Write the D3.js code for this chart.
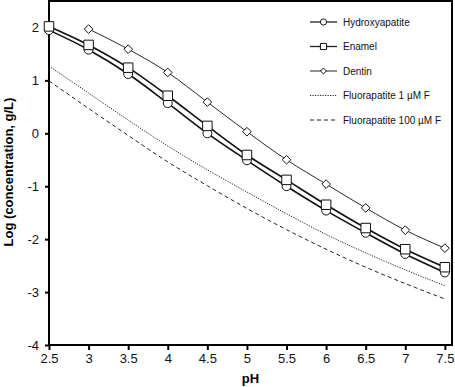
<!DOCTYPE html>
<html>
<head>
<meta charset="utf-8">
<script src="https://cdn.jsdelivr.net/npm/d3@7"></script>
<style>
  body { margin: 0; background: #fff; }
  svg { display: block; font-family: "Liberation Sans", Arial, Helvetica, sans-serif; }
</style>
</head>
<body>
<svg id="chart"></svg>
<script>
// data
var ph = [2.5, 3, 3.5, 4, 4.5, 5, 5.5, 6, 6.5, 7, 7.5];
var hydroxyapatite = [1.95, 1.58, 1.12, 0.57, 0.0, -0.51, -1.0, -1.46, -1.88, -2.28, -2.63];
var enamel = [2.02, 1.67, 1.24, 0.71, 0.14, -0.41, -0.88, -1.35, -1.79, -2.19, -2.53];
var dentinPh = [3, 3.5, 4, 4.5, 5, 5.5, 6, 6.5, 7, 7.5];
var dentin = [1.97, 1.59, 1.15, 0.59, 0.03, -0.5, -0.96, -1.41, -1.83, -2.17];
var fluor1 = [1.27, 0.76, 0.25, -0.24, -0.69, -1.11, -1.52, -1.91, -2.26, -2.58, -2.88];
var fluor100 = [0.99, 0.47, -0.04, -0.54, -0.99, -1.42, -1.82, -2.19, -2.53, -2.84, -3.13];
var xTicks = [2.5, 3, 3.5, 4, 4.5, 5, 5.5, 6, 6.5, 7, 7.5];
var yTicks = [-4, -3, -2, -1, 0, 1, 2];

var width = 455, height = 387;
var margin = { left: 49, right: 452, top: 1, bottom: 345 };

var svg = d3.select("#chart").attr("width", width).attr("height", height);

var x = d3.scaleLinear().domain([2.5, 7.59]).range([margin.left, margin.right]);
var y = d3.scaleLinear().domain([-4, 2.5]).range([margin.bottom, margin.top]);

// frame
svg.append("rect")
  .attr("x", margin.left).attr("y", margin.top)
  .attr("width", margin.right - margin.left).attr("height", margin.bottom - margin.top)
  .attr("fill", "none").attr("stroke", "#000").attr("stroke-width", 2);

// axes (plain hyphen for negatives, like the original)
var plain = function (d) { return String(d); };
var xAxis = svg.append("g")
  .attr("transform", "translate(0," + margin.bottom + ")")
  .call(d3.axisBottom(x).tickValues(xTicks).tickSize(5).tickPadding(4).tickFormat(plain));
var yAxis = svg.append("g")
  .attr("transform", "translate(" + margin.left + ",0)")
  .call(d3.axisLeft(y).tickValues(yTicks).tickSize(4).tickPadding(6).tickFormat(plain));

[xAxis, yAxis].forEach(function (g) {
  g.select(".domain").remove();
  g.selectAll(".tick line").attr("stroke", "#000").attr("stroke-width", 2);
  g.selectAll(".tick text").attr("fill", "#111").style("font-size", "13px")
    .style("font-family", "'Liberation Sans', Arial, sans-serif");
});

// axis titles
svg.append("text")
  .attr("x", (margin.left + margin.right) / 2).attr("y", 383)
  .attr("text-anchor", "middle")
  .style("font-size", "13px").style("font-weight", "bold")
  .text("pH");
svg.append("text")
  .attr("transform", "translate(13,172) rotate(-90)")
  .attr("text-anchor", "middle")
  .style("font-size", "13px").style("font-weight", "bold")
  .text("Log (concentration, g/L)");

var line = d3.line().curve(d3.curveMonotoneX)
  .x(function (d) { return x(d[0]); })
  .y(function (d) { return y(d[1]); });

function pairs(xs, ys) { return xs.map(function (v, i) { return [v, ys[i]]; }); }

// fluorapatite curves
svg.append("path").datum(pairs(ph, fluor1))
  .attr("d", line).attr("fill", "none").attr("stroke", "#222")
  .attr("stroke-width", 1).attr("stroke-dasharray", "1.2,1.3");
svg.append("path").datum(pairs(ph, fluor100))
  .attr("d", line).attr("fill", "none").attr("stroke", "#222")
  .attr("stroke-width", 1).attr("stroke-dasharray", "4,3");

// marker series
var series = [
  { name: "Dentin", xs: dentinPh, ys: dentin, symbol: d3.symbolDiamond2, size: 48, lw: 0.9 },
  { name: "Hydroxyapatite", xs: ph, ys: hydroxyapatite, symbol: d3.symbolCircle, size: 62, lw: 1.6 },
  { name: "Enamel", xs: ph, ys: enamel, symbol: d3.symbolSquare, size: 90, lw: 1.6 }
];

series.forEach(function (s) {
  svg.append("path").datum(pairs(s.xs, s.ys))
    .attr("d", line).attr("fill", "none").attr("stroke", "#111").attr("stroke-width", s.lw);
});
series.forEach(function (s) {
  svg.append("g").selectAll("path")
    .data(pairs(s.xs, s.ys))
    .join("path")
    .attr("transform", function (d) { return "translate(" + x(d[0]) + "," + y(d[1]) + ")"; })
    .attr("d", d3.symbol().type(s.symbol).size(s.size))
    .attr("fill", "#fff").attr("stroke", "#111").attr("stroke-width", 1);
});

// legend
var legend = [
  { name: "Hydroxyapatite", symbol: d3.symbolCircle, size: 30, lw: 1.3 },
  { name: "Enamel", symbol: d3.symbolSquare, size: 38, lw: 1.3 },
  { name: "Dentin", symbol: d3.symbolDiamond2, size: 22, lw: 1 },
  { name: "Fluorapatite 1 \u00b5M F", dash: "1.2,1.3" },
  { name: "Fluorapatite 100 \u00b5M F", dash: "4,3" }
];
var lg = svg.append("g").attr("transform", "translate(310,22)");
legend.forEach(function (l, i) {
  var row = lg.append("g").attr("transform", "translate(0," + (i * 24.5) + ")");
  row.append("line").attr("x1", 0).attr("x2", 27).attr("y1", 0).attr("y2", 0)
    .attr("stroke", "#222").attr("stroke-width", l.lw || 1)
    .attr("stroke-dasharray", l.dash || null);
  if (l.symbol) {
    row.append("path").attr("transform", "translate(13.5,0)")
      .attr("d", d3.symbol().type(l.symbol).size(l.size))
      .attr("fill", "#fff").attr("stroke", "#111").attr("stroke-width", 1);
  }
  row.append("text").attr("x", 33).attr("y", 3.5)
    .style("font-size", "10px").attr("fill", "#111")
    .text(l.name);
});
</script>
</body>
</html>
